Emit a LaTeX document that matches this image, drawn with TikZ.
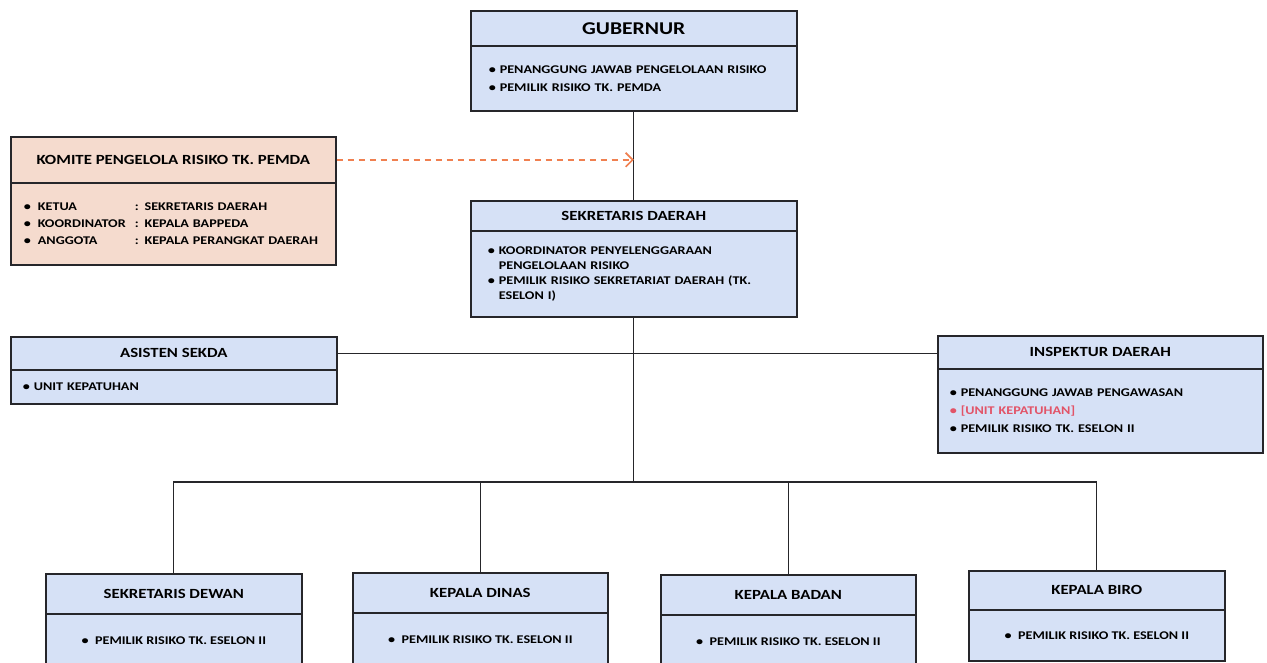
\documentclass[tikz,border=0pt]{standalone}
\usepackage{fontspec}
\setmainfont[FakeStretch=1.2]{Carlito}
\usetikzlibrary{arrows.meta}

\definecolor{boxblue}{RGB}{214,225,246}
\definecolor{boxpeach}{RGB}{245,219,206}
\definecolor{edgegray}{RGB}{38,38,42}
\definecolor{dashorange}{RGB}{240,128,80}
\definecolor{notered}{RGB}{226,84,104}

\tikzset{
  frame/.style={draw=edgegray, line width=1.6pt, rectangle, anchor=north west,
    inner sep=0pt, font=\bfseries},
  headbox/.style={frame, fill=boxblue, align=center},
  bodybox/.style={frame, fill=boxblue, align=left, inner xsep=18pt},
  bodyc/.style={frame, fill=boxblue, align=center},
  link/.style={draw=edgegray, line width=1.3pt},
  dashlink/.style={draw=dashorange, line width=1.8pt, dash pattern=on 6pt off 5pt,
    -{Straight Barb[length=7pt, width=14pt, line width=1.6pt]}},
  hfont/.style={font=\bfseries\fontsize{14}{16}\selectfont},
  bfont/.style={font=\bfseries\fontsize{11.8}{18}\selectfont},
  sfont/.style={font=\bfseries\fontsize{11.8}{14}\selectfont}
}

\begin{document}
\begin{tikzpicture}[x=1pt, y=-1pt]
\useasboundingbox[fill=white] (0,0) rectangle (1267,662);

% Gubernur
\node[headbox, minimum width=326pt, minimum height=35pt,
  font=\bfseries\fontsize{18}{20}\selectfont] (gub-h) at (470,10) {GUBERNUR};
\node[bodybox, bfont, minimum width=326pt, minimum height=65pt,
  text width=290pt] (gub-b) at (470,45)
  {\textbullet\ PENANGGUNG JAWAB PENGELOLAAN RISIKO\\
   \textbullet\ PEMILIK RISIKO TK. PEMDA};

% Komite pengelola risiko
\node[headbox, fill=boxpeach, hfont, minimum width=325pt, minimum height=46pt]
  (kom-h) at (10,136) {KOMITE PENGELOLA RISIKO TK. PEMDA};
\node[bodybox, fill=boxpeach, minimum width=325pt, minimum height=82pt,
  text width=299pt, inner xsep=13pt, font=\bfseries\fontsize{11.8}{17}\selectfont]
  (kom-b) at (10,182)
  {\begin{tabular}{@{}l@{\hspace{7pt}}l@{\hspace{9pt}}l@{}}
   \textbullet & KETUA & : SEKRETARIS DAERAH\\
   \textbullet & KOORDINATOR & : KEPALA BAPPEDA\\
   \textbullet & ANGGOTA & : KEPALA PERANGKAT DAERAH
   \end{tabular}};

% Sekretaris daerah
\node[headbox, hfont, minimum width=326pt, minimum height=30pt]
  (sek-h) at (470,200) {SEKRETARIS DAERAH};
\node[bodybox, minimum width=326pt, minimum height=86pt, text width=292pt,
  inner xsep=17pt, font=\bfseries\fontsize{11.8}{15}\selectfont] (sek-b) at (470,230)
  {\begin{tabular}{@{}l@{\hspace{4pt}}l@{}}
   \textbullet & KOORDINATOR PENYELENGGARAAN\\
               & PENGELOLAAN RISIKO\\
   \textbullet & PEMILIK RISIKO SEKRETARIAT DAERAH (TK.\\
               & ESELON I)
   \end{tabular}};

% Asisten sekda
\node[headbox, hfont, minimum width=326pt, minimum height=33pt]
  (asi-h) at (10,336) {ASISTEN SEKDA};
\node[bodybox, bfont, minimum width=326pt, minimum height=34pt, text width=302pt,
  inner xsep=12pt] (asi-b) at (10,369)
  {\textbullet\ UNIT KEPATUHAN};

% Inspektur daerah
\node[headbox, hfont, minimum width=325pt, minimum height=33pt]
  (ins-h) at (937,335) {INSPEKTUR DAERAH};
\node[bodybox, bfont, minimum width=325pt, minimum height=84pt, text width=301pt,
  inner xsep=12pt] (ins-b) at (937,368)
  {\textbullet\ PENANGGUNG JAWAB PENGAWASAN\\
   \textcolor{notered}{\textbullet\ [UNIT KEPATUHAN]}\\
   \textbullet\ PEMILIK RISIKO TK. ESELON II};

% Eselon II units
\node[headbox, hfont, minimum width=256pt, minimum height=40pt]
  (dew-h) at (45,573) {SEKRETARIS DEWAN};
\node[bodyc, sfont, minimum width=256pt, minimum height=54pt]
  (dew-b) at (45,613) {\textbullet\ \ PEMILIK RISIKO TK. ESELON II};

\node[headbox, hfont, minimum width=255pt, minimum height=40pt]
  (din-h) at (352,572) {KEPALA DINAS};
\node[bodyc, sfont, minimum width=255pt, minimum height=54pt]
  (din-b) at (352,612) {\textbullet\ \ PEMILIK RISIKO TK. ESELON II};

\node[headbox, hfont, minimum width=255pt, minimum height=40pt]
  (bad-h) at (660,574) {KEPALA BADAN};
\node[bodyc, sfont, minimum width=255pt, minimum height=54pt]
  (bad-b) at (660,614) {\textbullet\ \ PEMILIK RISIKO TK. ESELON II};

\node[headbox, hfont, minimum width=256pt, minimum height=39pt]
  (bir-h) at (968,570) {KEPALA BIRO};
\node[bodyc, sfont, minimum width=256pt, minimum height=51pt]
  (bir-b) at (968,609) {\textbullet\ \ PEMILIK RISIKO TK. ESELON II};

% Connectors
\coordinate (dashend) at (gub-b.south |- kom-h.east);
\coordinate (bus) at (sek-b.south |- 0,482);

\draw[link] (gub-b.south) -- (sek-h.north);
\draw[dashlink] (kom-h.east) -- (dashend);
\draw[link] (sek-b.south) -- (bus);
\draw[link] (asi-h.east) -- (asi-h.east -| ins-h.west);
\draw[link] (dew-h.north) -- (dew-h.north |- bus) -- (bir-h.north |- bus) -- (bir-h.north);
\draw[link] (din-h.north) -- (din-h.north |- bus);
\draw[link] (bad-h.north) -- (bad-h.north |- bus);
\end{tikzpicture}
\end{document}
